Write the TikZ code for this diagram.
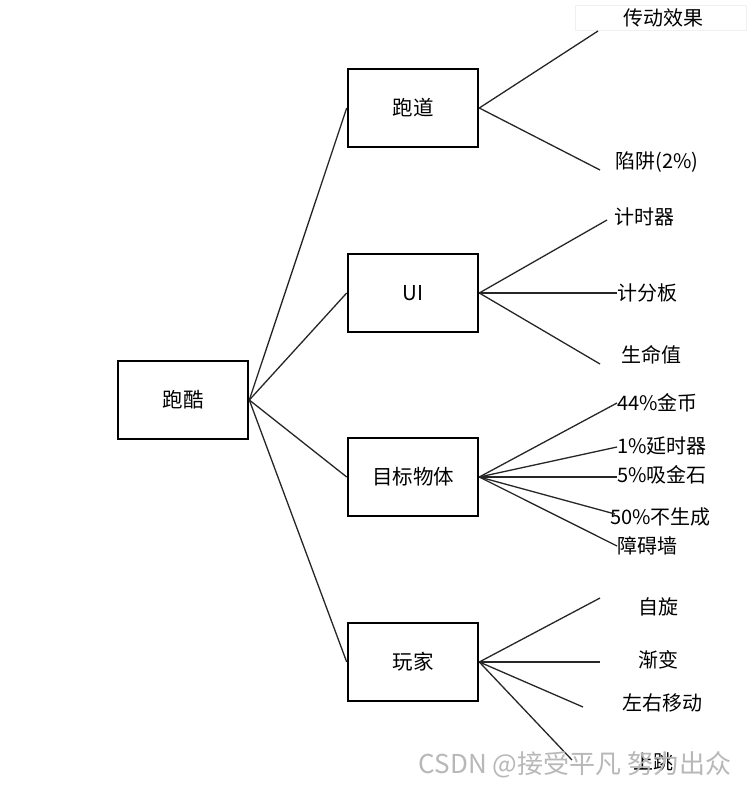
\documentclass[tikz,border=0pt]{standalone}
\usepackage{fontspec}
\setmainfont{Noto Sans CJK SC}
\usetikzlibrary{positioning}
\tikzset{
	box/.style={draw, line width=2.6pt, minimum width=130pt, minimum height=78pt, inner sep=0pt, font=\fontsize{20.5}{24}\selectfont},
	leaf/.style={inner sep=0pt, font=\fontsize{20}{24}\selectfont},
	link/.style={line width=1.3pt, draw=black!85},
}
\begin{document}
\begin{tikzpicture}[x=1pt,y=-1pt]
	\useasboundingbox[fill=white] (0,0) rectangle (746,791);
	\draw[black!6, line width=0.8pt] (575,5) rectangle (746,30);
	\node[box] (pk) at (183,400) {跑酷};
	\node[box] (pd) at (413,108) {跑道};
	\node[box] (ui) at (413,293) {UI};
	\node[box] (mb) at (413,477) {目标物体};
	\node[box] (wj) at (413,662) {玩家};
	\draw[link] (pk.east) -- (pd.west);
	\draw[link] (pk.east) -- (ui.west);
	\draw[link] (pk.east) -- (mb.west);
	\draw[link] (pk.east) -- (wj.west);
	\node[leaf] (cd) at (663,18) {传动效果};
	\node[leaf] (xj) at (657,162) {陷阱(2\%)};
	\coordinate (cde) at (598,31);
	\coordinate (xje) at (600,170);
	\draw[link] (pd.east) -- (cde);
	\draw[link] (pd.east) -- (xje);
	\node[leaf] (js) at (644,217) {计时器};
	\node[leaf, anchor=west] (jf) at (617,293) {计分板};
	\node[leaf] (sm) at (651,355) {生命值};
	\coordinate (jse) at (607,220);
	\coordinate (sme) at (600,364);
	\draw[link] (ui.east) -- (jse);
	\draw[link] (ui.east) -- (jf.west);
	\draw[link] (ui.east) -- (sme);
	\node[leaf, anchor=west] (jb) at (617,403) {44\%金币};
	\node[leaf, anchor=west] (ys) at (617,446) {1\%延时器};
	\node[leaf, anchor=west] (xs) at (617,475) {5\%吸金石};
	\node[leaf, anchor=west] (bs) at (610,517) {50\%不生成};
	\node[leaf, anchor=west] (za) at (617,546) {障碍墙};
	\draw[link] (mb.east) -- (jb.west);
	\draw[link] (mb.east) -- (617,447);
	\draw[link] (mb.east) -- (617,477);
	\draw[link] (mb.east) -- (615,514);
	\draw[link] (mb.east) -- (za.west);
	\node[leaf] (zx) at (658,607) {自旋};
	\node[leaf] (jbh) at (658,660) {渐变};
	\node[leaf] (zy) at (662,703) {左右移动};
	\coordinate (zxe) at (600,598);
	\coordinate (jbe) at (600,662);
	\coordinate (zye) at (583,707);
	\coordinate (ste) at (572,760);
	\draw[link] (wj.east) -- (zxe);
	\draw[link] (wj.east) -- (jbe);
	\draw[link] (wj.east) -- (zye);
	\draw[link] (wj.east) -- (ste);
	\node[leaf] (st) at (653,762) {上跳};
	\node[inner sep=0pt, text=black!28, font=\fontsize{26}{30}\selectfont] (wm) at (575,765) {CSDN @接受平凡 努力出众};
\end{tikzpicture}
\end{document}
